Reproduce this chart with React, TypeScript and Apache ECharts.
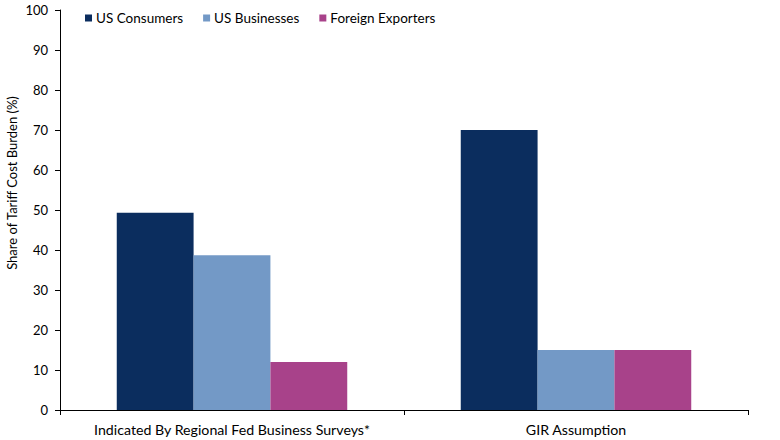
import React, { useEffect, useRef } from "react";
import * as echarts from "echarts";

const categories = ["Indicated By Regional Fed Business Surveys*", "GIR Assumption"];
const seriesNames = ["US Consumers", "US Businesses", "Foreign Exporters"];
const usConsumers = [49.3, 70];
const usBusinesses = [38.7, 15];
const foreignExporters = [12, 15];
const colors = ["#0b2d5e", "#7399c6", "#a8428a"];
const yTitle = "Share of Tariff Cost Burden (%)";

export default function App() {
  const ref = useRef<HTMLDivElement>(null);
  useEffect(() => {
    if (!ref.current) return;
    const chart = echarts.init(ref.current, undefined, { renderer: "svg" });
    const font = "Lato, 'Open Sans', sans-serif";
    const values = [usConsumers, usBusinesses, foreignExporters];
    chart.setOption({
      animation: false,
      textStyle: { fontFamily: font, color: "#000" },
      grid: { left: 60, right: 32, top: 10, bottom: 30, containLabel: false },
      legend: {
        left: 80,
        top: 6,
        icon: "rect",
        itemWidth: 7,
        itemHeight: 7,
        itemGap: 20,
        textStyle: { fontFamily: font, fontSize: 13.5, color: "#000", padding: [0, 0, 0, -1] },
        data: seriesNames,
      },
      xAxis: {
        type: "category",
        data: categories,
        axisLine: { show: true, lineStyle: { color: "#000", width: 1 } },
        axisTick: { show: true, alignWithLabel: false, interval: 0, length: 5, lineStyle: { color: "#000" } },
        axisLabel: { fontFamily: font, fontSize: 14.2, color: "#000", margin: 12, interval: 0, hideOverlap: false },
      },
      yAxis: {
        type: "value",
        min: 0,
        max: 100,
        interval: 10,
        splitLine: { show: false },
        axisLine: { show: true, lineStyle: { color: "#000", width: 1 } },
        axisTick: { show: true, length: 5, lineStyle: { color: "#000" } },
        axisLabel: { fontFamily: font, fontSize: 13, color: "#000", margin: 12 },
      },
      graphic: [
        {
          type: "text",
          x: 12,
          y: 183,
          rotation: Math.PI / 2,
          style: {
            text: yTitle,
            fontFamily: font,
            fontSize: 13,
            fill: "#000",
            textAlign: "center",
            textVerticalAlign: "middle",
          },
        },
      ],
      series: seriesNames.map((name, i) => ({
        name,
        type: "bar",
        data: values[i],
        barGap: "0%",
        barCategoryGap: "33%",
        itemStyle: { color: colors[i] },
      })),
    });
    return () => chart.dispose();
  }, []);
  return (
    <div
      ref={ref}
      style={{ position: "fixed", left: 0, top: 0, width: 780, height: 440, background: "#fff" }}
    />
  );
}
